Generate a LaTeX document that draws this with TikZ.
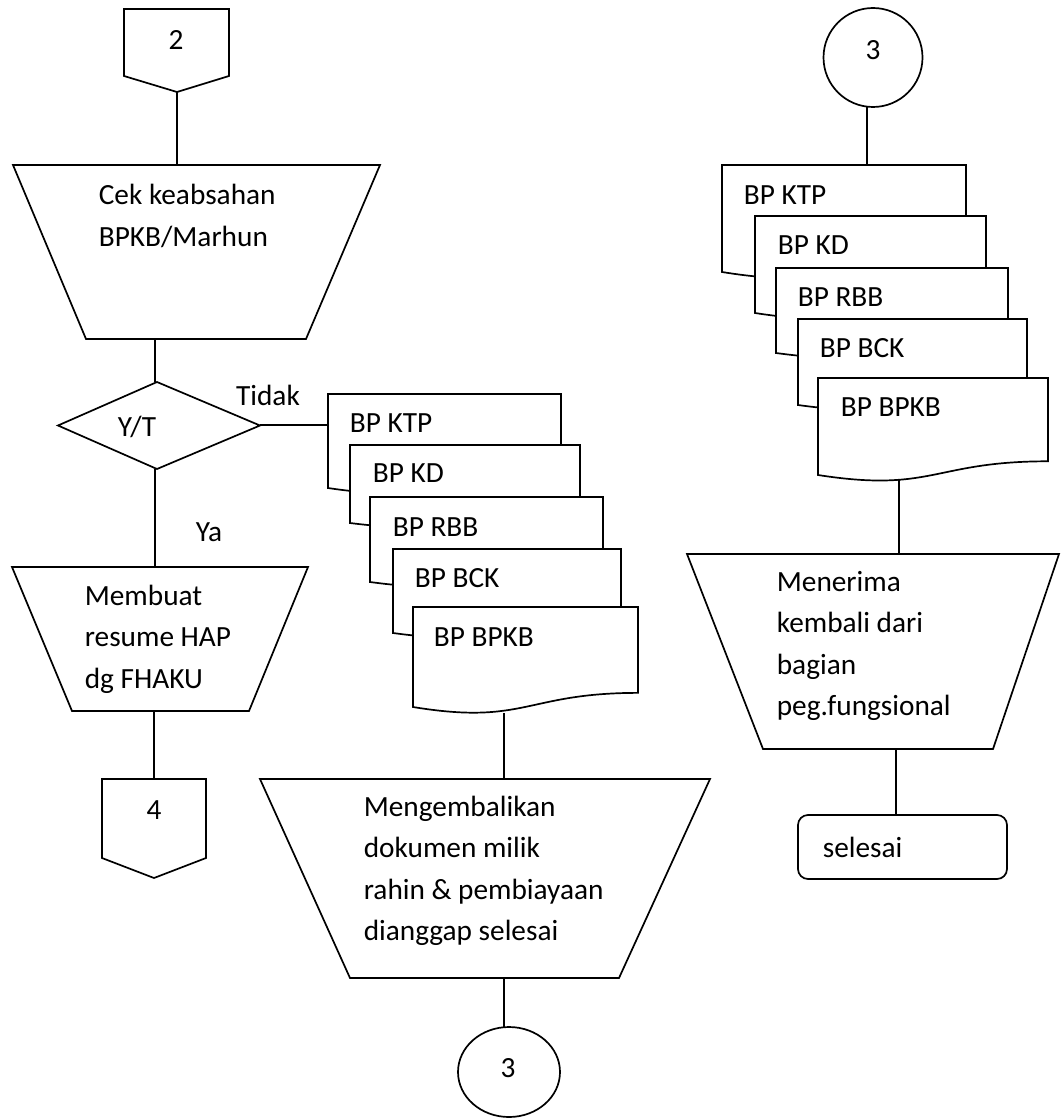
\documentclass[tikz,border=0pt]{standalone}
\usepackage{fontspec}
\setmainfont{Carlito}

% document symbol with a wavy lower edge: #1 left x, #2 right x, #3 top y, #4 lower-left y
\newcommand\docpage[4]{%
  \pgfmathsetmacro\docRB{#3+0.8587*(#4-#3)}%
  \pgfmathsetmacro\docCB{#3+1.1852*(#4-#3)}%
  \pgfmathsetmacro\docMX{(#1+#2)/2}%
  \draw[shapeline] (#1,#3) -- (#2,#3) -- (#2,\docRB)
    .. controls (\docMX,\docRB) and (\docMX,\docCB) .. (#1,#4) -- cycle;%
}

\begin{document}
\begin{tikzpicture}[x=1pt, y=-1pt, line width=1.7pt,
  lbl/.style={font=\fontsize{29.3}{41.5}\selectfont, inner sep=0pt},
  txt/.style={lbl, anchor=west, align=left},
  shapeline/.style={draw=black, fill=white, line join=miter},
  link/.style={draw=black}]

\useasboundingbox (0,0) rectangle (1062,1118);
\fill[white] (0,0) rectangle (1062,1118);

% ---------- attachment points ----------
\coordinate (offTwoOut)   at (177,92);
\coordinate (cekIn)       at (177,165);
\coordinate (cekOut)      at (155,339);
\coordinate (decIn)       at (155,382);
\coordinate (decRight)    at (260,425);
\coordinate (stackAIn)    at (328,425);
\coordinate (decOut)      at (155,469);
\coordinate (buatIn)      at (155,567);
\coordinate (buatOut)     at (154,711);
\coordinate (offFourIn)   at (154,779);
\coordinate (stackAOut)   at (504,713);
\coordinate (kembaliIn)   at (504,779);
\coordinate (kembaliOut)  at (504,978);
\coordinate (conBotIn)    at (504,1028);
\coordinate (conTopOut)   at (867,107);
\coordinate (stackBIn)    at (867,165);
\coordinate (stackBOut)   at (899,480);
\coordinate (terimaIn)    at (899,554);
\coordinate (terimaOut)   at (896,749);
\coordinate (endIn)       at (896,815);

% ---------- connectors ----------
\draw[link] (offTwoOut) -- (cekIn);
\draw[link] (cekOut) -- (decIn);
\draw[link] (decRight) -- (stackAIn);
\draw[link] (decOut) -- (buatIn);
\draw[link] (buatOut) -- (offFourIn);
\draw[link] (stackAOut) -- (kembaliIn);
\draw[link] (kembaliOut) -- (conBotIn);
\draw[link] (conTopOut) -- (stackBIn);
\draw[link] (stackBOut) -- (terimaIn);
\draw[link] (terimaOut) -- (endIn);

% ---------- left column ----------
\draw[shapeline] (124,9) -- (229,9) -- (229,76) -- (177,92) -- (124,76) -- cycle;
\node[lbl] (offTwo) at (176,40) {2};

\draw[shapeline] (13,165) -- (380,165) -- (306,339) -- (86,339) -- cycle;
\node[txt] (cek) at (98,216) {Cek keabsahan\\BPKB/Marhun};

\draw[shapeline] (157,382) -- (260,425.5) -- (157,469) -- (58,425.5) -- cycle;
\node[lbl] (dec) at (137,427) {Y/T};
\node[lbl] (tidak) at (268,395) {Tidak};
\node[lbl] (ya) at (209,532) {Ya};

\draw[shapeline] (12,567) -- (308,567) -- (249,711) -- (72,711) -- cycle;
\node[txt] (buat) at (84,639) {Membuat\\resume HAP\\dg FHAKU};

\draw[shapeline] (102,779) -- (206,779) -- (206,858) -- (154,878) -- (102,858) -- cycle;
\node[lbl] (offFour) at (154,810) {4};

% ---------- middle document stack ----------
\docpage{328}{561}{394}{488}
\node[txt] (aKtp) at (349,423) {BP KTP};
\docpage{350}{580}{445}{523}
\node[txt] (aKd) at (372,473) {BP KD};
\docpage{370}{603}{497}{582}
\node[txt] (aRbb) at (392,527) {BP RBB};
\docpage{393}{621}{549}{633}
\node[txt] (aBck) at (414,578) {BP BCK};
\docpage{413}{638}{607}{707}
\node[txt] (aBpkb) at (433,637) {BP BPKB};

\draw[shapeline] (260,779) -- (710,779) -- (619,978) -- (350,978) -- cycle;
\node[txt] (kembali) at (363,871)
  {Mengembalikan\\dokumen milik\\rahin \& pembiayaan\\dianggap selesai};

\draw[shapeline] (509,1072) ellipse [x radius=51, y radius=45];
\node[lbl] (conBot) at (508,1068) {3};

% ---------- right column ----------
\draw[shapeline] (873,57.5) circle [radius=49.5];
\node[lbl] (conTop) at (873,50) {3};

\docpage{722}{966}{165}{272}
\node[txt] (bKtp) at (743,195) {BP KTP};
\docpage{755}{986}{216}{313}
\node[txt] (bKd) at (777,245) {BP KD};
\docpage{776}{1008}{268}{353}
\node[txt] (bRbb) at (797,297) {BP RBB};
\docpage{798}{1027}{319}{405}
\node[txt] (bBck) at (819,348) {BP BCK};
\docpage{818}{1048}{378}{475}
\node[txt] (bBpkb) at (840,407) {BP BPKB};

\draw[shapeline] (687,554) -- (1059,554) -- (993,749) -- (763,749) -- cycle;
\node[txt] (terima) at (776,646)
  {Menerima\\kembali dari\\bagian\\peg.fungsional};

\draw[shapeline, rounded corners=10pt] (798,815) rectangle (1007,879);
\node[txt] (endNode) at (822,847) {selesai};

\end{tikzpicture}
\end{document}
